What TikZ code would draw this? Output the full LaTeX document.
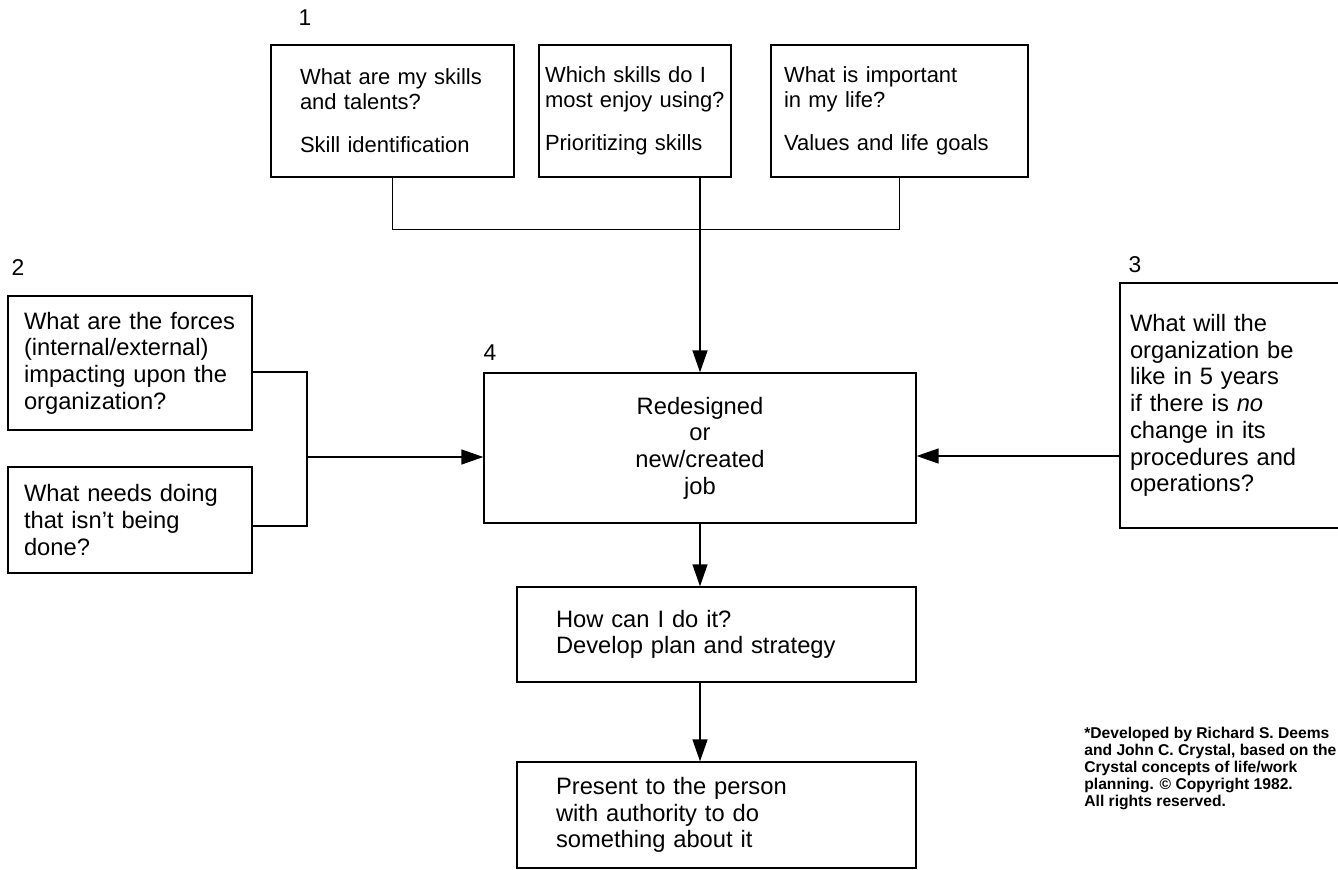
\documentclass[tikz,border=0pt]{standalone}
\usepackage{fontspec}
\setmainfont{Liberation Sans}
\usetikzlibrary{arrows.meta}

\begin{document}
\begin{tikzpicture}[
  x=0.02cm, y=-0.02cm,
  every node/.style={font=\fontsize{13.5}{15.2}\selectfont},
  box/.style={draw, line width=0.8pt, inner xsep=0pt, inner ysep=0pt, align=left},
  topbox/.style={box, minimum height=2.64cm, font=\fontsize{12.5}{14.2}\selectfont},
  num/.style={font=\fontsize{13}{15}\selectfont, inner sep=0pt},
  link/.style={line width=0.8pt},
  arr/.style={link, -{Triangle[length=4.4mm, width=3mm]}}
]
\useasboundingbox (0,0) rectangle (1338,869);

% Step 1: the three questions about oneself
\node[num] (n1) at (305,18) {1};
\node[topbox, minimum width=4.86cm, text width=3.70cm] (skills) at (392.5,111)
  {What are my skills\\and talents?\\[0.36cm]Skill identification};
\node[topbox, minimum width=3.84cm, text width=3.60cm] (enjoy) at (635,111)
  {Which skills do I\\most enjoy using?\\[0.36cm]Prioritizing skills};
\node[topbox, minimum width=5.14cm, text width=4.62cm] (values) at (899.5,111)
  {What is important\\in my life?\\[0.36cm]Values and life goals};

% Step 2: the organization now
\node[num] (n2) at (18,268) {2};
\node[box, minimum width=4.88cm, minimum height=2.68cm, text width=4.24cm] (forces) at (130,363)
  {What are the forces\\(internal/external)\\impacting upon the\\organization?};
\node[box, minimum width=4.88cm, minimum height=2.12cm, text width=4.24cm] (needs) at (130,520)
  {What needs doing\\that isn't being\\done?};

% Step 3: the organization later
\node[num] (n3) at (1135,265) {3};
\node[box, minimum width=4.5cm, minimum height=4.9cm, text width=4.1cm] (future) at (1232.5,405.5)
  {What will the\\organization be\\like in 5 years\\if there is \textit{no}\\change in its\\procedures and\\operations?};

% Step 4: the job and what follows
\node[num] (n4) at (490,353) {4};
\node[box, minimum width=8.64cm, minimum height=3cm, align=center] (job) at (700,448)
  {Redesigned\\or\\new/created\\job};
\node[box, minimum width=7.98cm, minimum height=1.9cm, text width=6.42cm] (how) at (716.5,634.5)
  {How can I do it?\\Develop plan and strategy};
\node[box, minimum width=7.98cm, minimum height=2.12cm, text width=6.42cm] (present) at (716.5,815)
  {Present to the person\\with authority to do\\something about it};

% Footnote
\node[anchor=north west, inner sep=0pt, align=left, font=\fontsize{8.9}{9.7}\selectfont\bfseries] (credit) at (1084,727)
  {*Developed by Richard S. Deems\\and John C. Crystal, based on the\\Crystal concepts of life/work\\planning. © Copyright 1982.\\All rights reserved.};

% Connectors
\coordinate (join) at (307,457);
\draw[link] (skills.south) -- ++(0,52) -| (values.south);
\draw[arr] (enjoy.south -| job.north) -- (job.north);
\draw[link] (forces.east |- 0,372) -| (join) |- (needs.east |- 0,526);
\draw[arr] (join) -- (job.west |- join);
\draw[arr] (future.west |- 0,456) -- (job.east |- 0,456);
\draw[arr] (job.south) -- (job.south |- how.north);
\draw[arr] (how.south -| job.south) -- (job.south |- present.north);

\end{tikzpicture}
\end{document}
